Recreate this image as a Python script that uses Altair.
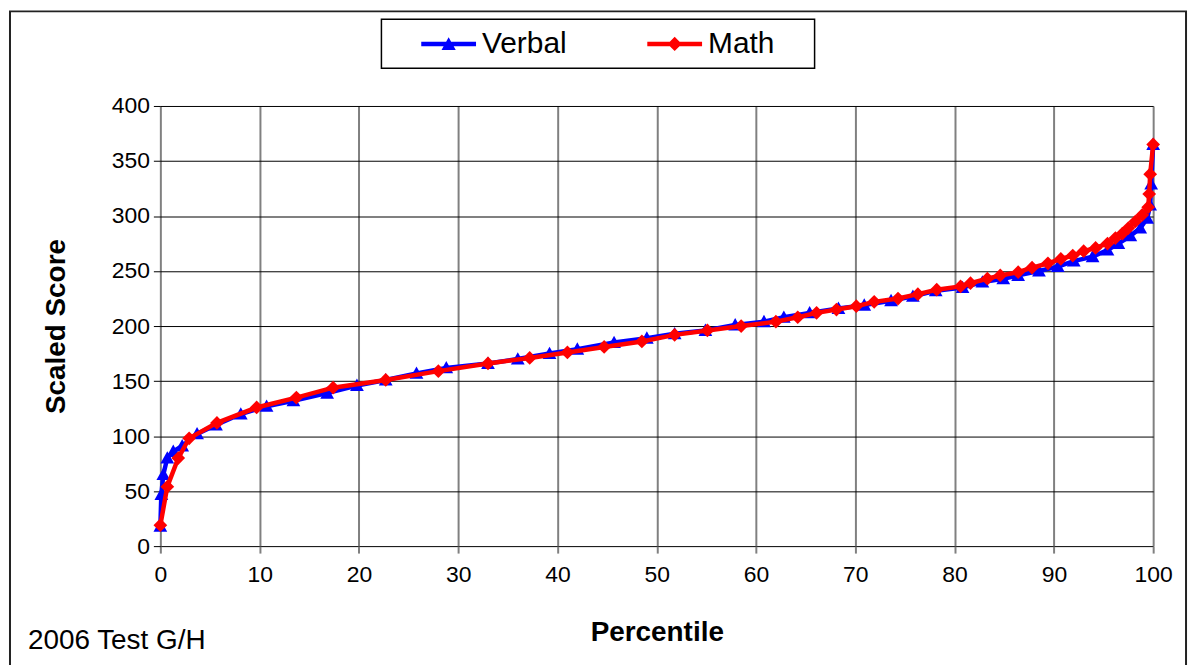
import altair as alt
import pandas as pd

# ---- data ----
verbal_pct = [0, 0.1, 0.3, 0.7, 1.3, 2.2, 3.7, 5.6, 8.1, 10.7, 13.4, 16.8, 19.8, 22.7, 25.8,
              28.8, 33.0, 36.0, 39.2, 42.0, 45.7, 49.0, 51.8, 54.9, 57.9, 60.8, 62.8, 65.4,
              68.3, 70.9, 73.6, 75.8, 78.1, 80.8, 82.8, 84.9, 86.4, 88.5, 90.4, 92.0, 93.9,
              95.4, 96.5, 97.7, 98.7, 99.4, 99.7, 99.8, 100]
verbal_score = [18, 47, 65, 80, 86, 91, 102, 110, 120, 127, 132, 139, 146, 151, 157,
                162, 166, 170, 175, 179, 185, 189, 193, 196, 201, 204, 208, 212,
                216, 219, 223, 227, 232, 235, 240, 243, 246, 250, 254, 259, 263,
                269, 275, 282, 289, 298, 310, 329, 365]

math_pct = [0, 0.7, 1.8, 2.9, 5.7, 9.7, 13.7, 17.4, 22.7, 28.0, 33.0, 37.2, 41.0, 44.7,
            48.5, 51.8, 55.1, 58.5, 62.0, 64.2, 66.1, 68.1, 70.1, 71.9, 74.3, 76.3, 78.2,
            80.6, 81.6, 83.3, 84.6, 86.4, 87.8, 89.4, 90.7, 91.9, 93.0, 94.2, 95.4, 96.2,
            96.9, 97.5, 98.2, 98.9, 99.5, 99.6, 99.7, 100]
math_score = [19, 54, 80, 98, 112, 126, 135, 144, 151, 159, 166, 171, 176, 181,
              186, 192, 196, 200, 204, 208, 212, 215, 218, 222, 225, 229, 233,
              236, 239, 243, 246, 249, 253, 257, 261, 264, 268, 271, 275, 280,
              284, 289, 295, 301, 308, 320, 338, 365]

series_names = ["Verbal", "Math"]
series_colors = ["#0000FF", "#FF0000"]
x_ticks = [0, 10, 20, 30, 40, 50, 60, 70, 80, 90, 100]
y_ticks = [0, 50, 100, 150, 200, 250, 300, 350, 400]
x_title = "Percentile"
y_title = "Scaled Score"
note_text = "2006 Test G/H"

# ---- build table ----
rows = []
for i, (p, s) in enumerate(zip(verbal_pct, verbal_score)):
    rows.append({"series": "Verbal", "pct": p, "score": s, "i": i})
for i, (p, s) in enumerate(zip(math_pct, math_score)):
    rows.append({"series": "Math", "pct": p, "score": s, "i": i})
df = pd.DataFrame(rows)
one = pd.DataFrame({"k": [0]})

FONT = "Liberation Sans"
W, H = 997, 442

x_scale = alt.Scale(domain=[0, 100], nice=False, zero=False)
y_scale = alt.Scale(domain=[0, 400], nice=False)

x_axis = alt.Axis(values=x_ticks, title=x_title, grid=True, gridColor="#808080", gridWidth=2,
                  tickColor="#808080", tickWidth=2, tickSize=7, domain=False,
                  labelFontSize=23, labelPadding=11, labelColor="black", labelFlush=False,
                  titleFontSize=28, titleFontWeight="bold", titleColor="black",
                  titleY=95, titleBaseline="alphabetic")
y_axis = alt.Axis(values=y_ticks, title=y_title, grid=True, gridColor="#000000", gridWidth=1,
                  tickColor="#000000", tickWidth=1, tickSize=7, domain=False,
                  labelFontSize=23, labelPadding=4, labelColor="black",
                  titleFontSize=28, titleFontWeight="bold", titleColor="black",
                  titleX=-104, titleBaseline="middle")

X = alt.X("pct:Q", scale=x_scale, axis=x_axis)
Y = alt.Y("score:Q", scale=y_scale, axis=y_axis)

tri_path = "M0,-1L1,0.8L-1,0.8Z"
dia_path = "M0,-1L1,0L0,1L-1,0Z"
leg_tri = "M-1,-0.08L1,-0.08L1,0.08L-1,0.08ZM0,-0.25L0.26,0.22L-0.26,0.22Z"
leg_dia = "M-1,-0.08L1,-0.08L1,0.08L-1,0.08ZM0,-0.26L0.26,0L0,0.26L-0.26,0Z"

base = alt.Chart(df)

frame = alt.Chart(one).mark_rect(fill="transparent", stroke="#222222", strokeWidth=2).encode(
    x=alt.value(-151), x2=alt.value(1030), y=alt.value(-95), y2=alt.value(620))
legend_box = alt.Chart(one).mark_rect(fill="white", stroke="#000000", strokeWidth=1.5).encode(
    x=alt.value(222), x2=alt.value(657), y=alt.value(-87), y2=alt.value(-38))
note = alt.Chart(one).mark_text(text=note_text, align="left", baseline="alphabetic",
                                fontSize=28, font=FONT, color="black").encode(
    x=alt.value(-133), y=alt.value(545))

layers = [frame, legend_box]
for name, color, path in [("Verbal", series_colors[0], tri_path), ("Math", series_colors[1], dia_path)]:
    d = base.transform_filter(alt.datum.series == name)
    layers.append(d.mark_line(color=color, strokeWidth=4.5).encode(x=X, y=Y, order="i:Q"))
    layers.append(d.mark_point(shape=path, filled=True, size=190, color=color, opacity=1).encode(x=X, y=Y))

legend = alt.Legend(title=None, orient="none", legendX=262, legendY=-90, direction="horizontal",
                    labelFontSize=30, labelFont=FONT, labelColor="black", symbolSize=3025,
                    columnPadding=80, labelOffset=6, padding=0, symbolStrokeWidth=0,
                    symbolOpacity=1)
leg_layer = base.transform_filter("datum.pct < -1").mark_point(filled=True, size=3025, opacity=1).encode(
    x=X, y=Y,
    color=alt.Color("series:N", scale=alt.Scale(domain=series_names, range=series_colors), legend=legend),
    shape=alt.Shape("series:N", scale=alt.Scale(domain=series_names, range=[leg_tri, leg_dia]), legend=legend),
)
layers.append(leg_layer)
layers.append(note)

chart = alt.layer(*layers).properties(
    width=W, height=H,
    autosize=alt.AutoSizeParams(type="none"),
    padding={"left": 153, "top": 97, "right": 39, "bottom": 118},
    background="white",
).configure(font=FONT).configure_view(stroke="transparent")

chart.save("out.html", embed_options={"renderer": "svg", "actions": False})
